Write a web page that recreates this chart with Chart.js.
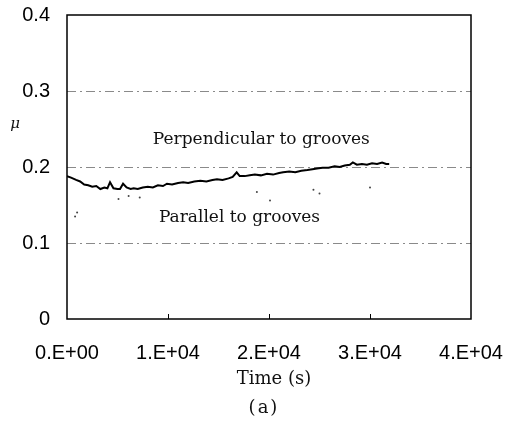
<!DOCTYPE html>
<html>
<head>
<meta charset="utf-8">
<script src="https://cdn.jsdelivr.net/npm/chart.js@4.4.4/dist/chart.umd.min.js"></script>
<style>
  html, body { margin: 0; padding: 0; background: #fff; }
  #wrap { width: 514px; height: 426px; position: relative; }
</style>
</head>
<body>
<div id="wrap"><canvas id="chart" width="514" height="426"></canvas></div>
<script>
// Perpendicular to grooves: friction coefficient vs time
const perpTime = [0, 400, 900, 1300, 1700, 2100, 2500, 2900, 3300, 3700, 4000, 4260, 4600, 5000, 5250, 5550, 5900, 6300, 6600, 7000, 7500, 8000, 8500, 9000, 9500, 9900, 10400, 11000, 11500, 12000, 12600, 13200, 13800, 14400, 14850, 15400, 16000, 16400, 16800, 17100, 17600, 18100, 18600, 19200, 19800, 20400, 21000, 21400, 22000, 22600, 23200, 23800, 24300, 24750, 25300, 25900, 26500, 27000, 27500, 28000, 28300, 28700, 29200, 29700, 30200, 30700, 31200, 31600, 31900];
const perpMu = [0.188, 0.186, 0.183, 0.181, 0.177, 0.176, 0.174, 0.175, 0.171, 0.173, 0.172, 0.180, 0.172, 0.171, 0.171, 0.178, 0.173, 0.171, 0.172, 0.171, 0.173, 0.174, 0.173, 0.176, 0.175, 0.178, 0.177, 0.179, 0.180, 0.179, 0.181, 0.182, 0.181, 0.183, 0.184, 0.183, 0.185, 0.187, 0.193, 0.188, 0.188, 0.189, 0.190, 0.189, 0.191, 0.190, 0.192, 0.193, 0.194, 0.193, 0.195, 0.196, 0.197, 0.198, 0.199, 0.199, 0.201, 0.200, 0.202, 0.203, 0.206, 0.203, 0.204, 0.203, 0.205, 0.204, 0.206, 0.204, 0.204];

// Parallel to grooves: only faint scattered dots survive in the figure
const paraTime = [800, 1000, 5100, 6100, 7200, 18800, 20100, 24400, 25000, 30000];
const paraMu = [0.135, 0.140, 0.158, 0.162, 0.160, 0.167, 0.156, 0.170, 0.165, 0.173];

const xTicks = [0, 10000, 20000, 30000, 40000];
const xLabels = ['0.E+00', '1.E+04', '2.E+04', '3.E+04', '4.E+04'];
const yTicks = [0, 0.1, 0.2, 0.3, 0.4];
const yLabels = ['0', '0.1', '0.2', '0.3', '0.4'];

const notes = [
  { text: 'Perpendicular to grooves', t: 8500, mu: 0.2355 },
  { text: 'Parallel to grooves', t: 9100, mu: 0.134 },
];

const SANS = '"Liberation Sans", Arial, sans-serif';
const SERIF = '"DejaVu Serif", serif';

const framePlugin = {
  id: 'frame',
  afterDatasetsDraw(chart) {
    const { ctx, chartArea: a, scales: { x, y } } = chart;
    ctx.save();
    ctx.strokeStyle = '#000';
    ctx.lineWidth = 1.5;
    ctx.strokeRect(a.left, a.top, a.right - a.left, a.bottom - a.top);
    // small inner ticks on the time axis
    ctx.lineWidth = 1;
    xTicks.slice(1, -1).forEach(v => {
      const px = Math.round(x.getPixelForValue(v)) + 0.5;
      ctx.beginPath();
      ctx.moveTo(px, a.bottom);
      ctx.lineTo(px, a.bottom - 5);
      ctx.stroke();
    });
    // annotations
    ctx.fillStyle = '#111';
    ctx.font = '17px ' + SERIF;
    ctx.textAlign = 'left';
    ctx.textBaseline = 'middle';
    notes.forEach(n => ctx.fillText(n.text, x.getPixelForValue(n.t), y.getPixelForValue(n.mu)));
    // axis titles
    ctx.textAlign = 'center';
    ctx.font = '18px ' + SERIF;
    ctx.fillText('Time (s)', 274, 379);
    ctx.font = '18px ' + SERIF;
    ctx.letterSpacing = '2px';
    ctx.fillText('(a)', 264, 408);
    ctx.letterSpacing = '0px';
    ctx.font = 'italic 15px ' + SERIF;
    ctx.fillText('\u03bc', 15, 124);
    ctx.restore();
  }
};

new Chart(document.getElementById('chart'), {
  type: 'line',
  data: {
    datasets: [
      {
        label: 'Perpendicular to grooves',
        data: perpTime.map((t, i) => ({ x: t, y: perpMu[i] })),
        borderColor: '#000',
        borderWidth: 2,
        pointRadius: 0,
        tension: 0,
      },
      {
        label: 'Parallel to grooves',
        data: paraTime.map((t, i) => ({ x: t, y: paraMu[i] })),
        showLine: false,
        pointRadius: 1,
        pointBackgroundColor: '#444',
        pointBorderWidth: 0,
      },
    ],
  },
  options: {
    responsive: false,
    animation: false,
    layout: { padding: { left: 0, right: 43, top: 15, bottom: 0 } },
    plugins: { legend: { display: false }, tooltip: { enabled: false } },
    scales: {
      x: {
        type: 'linear', min: 0, max: 40000,
        afterFit: s => { s.height = 107; s.paddingLeft = 0; s.paddingRight = 0; },
        afterBuildTicks: s => { s.ticks = xTicks.map(v => ({ value: v })); },
        grid: { display: false, drawTicks: false },
        border: { display: false },
        ticks: {
          color: '#000', padding: 22, maxRotation: 0,
          font: { family: SANS, size: 20 },
          callback: v => xLabels[xTicks.indexOf(v)],
        },
      },
      y: {
        type: 'linear', min: 0, max: 0.4,
        afterFit: s => { s.width = 67; s.paddingTop = 0; s.paddingBottom = 0; },
        afterBuildTicks: s => { s.ticks = yTicks.map(v => ({ value: v })); },
        grid: {
          drawTicks: false,
          lineWidth: 1,
          color: c => (c.tick && (c.tick.value === 0 || c.tick.value === 0.4)) ? 'rgba(0,0,0,0)' : '#8a8a8a',
        },
        border: { display: false, dash: [9, 4, 2, 4] },
        ticks: {
          color: '#000', padding: 17,
          font: { family: SANS, size: 20 },
          callback: v => yLabels[yTicks.findIndex(k => Math.abs(k - v) < 1e-9)],
        },
      },
    },
  },
  plugins: [framePlugin],
});
</script>
</body>
</html>
